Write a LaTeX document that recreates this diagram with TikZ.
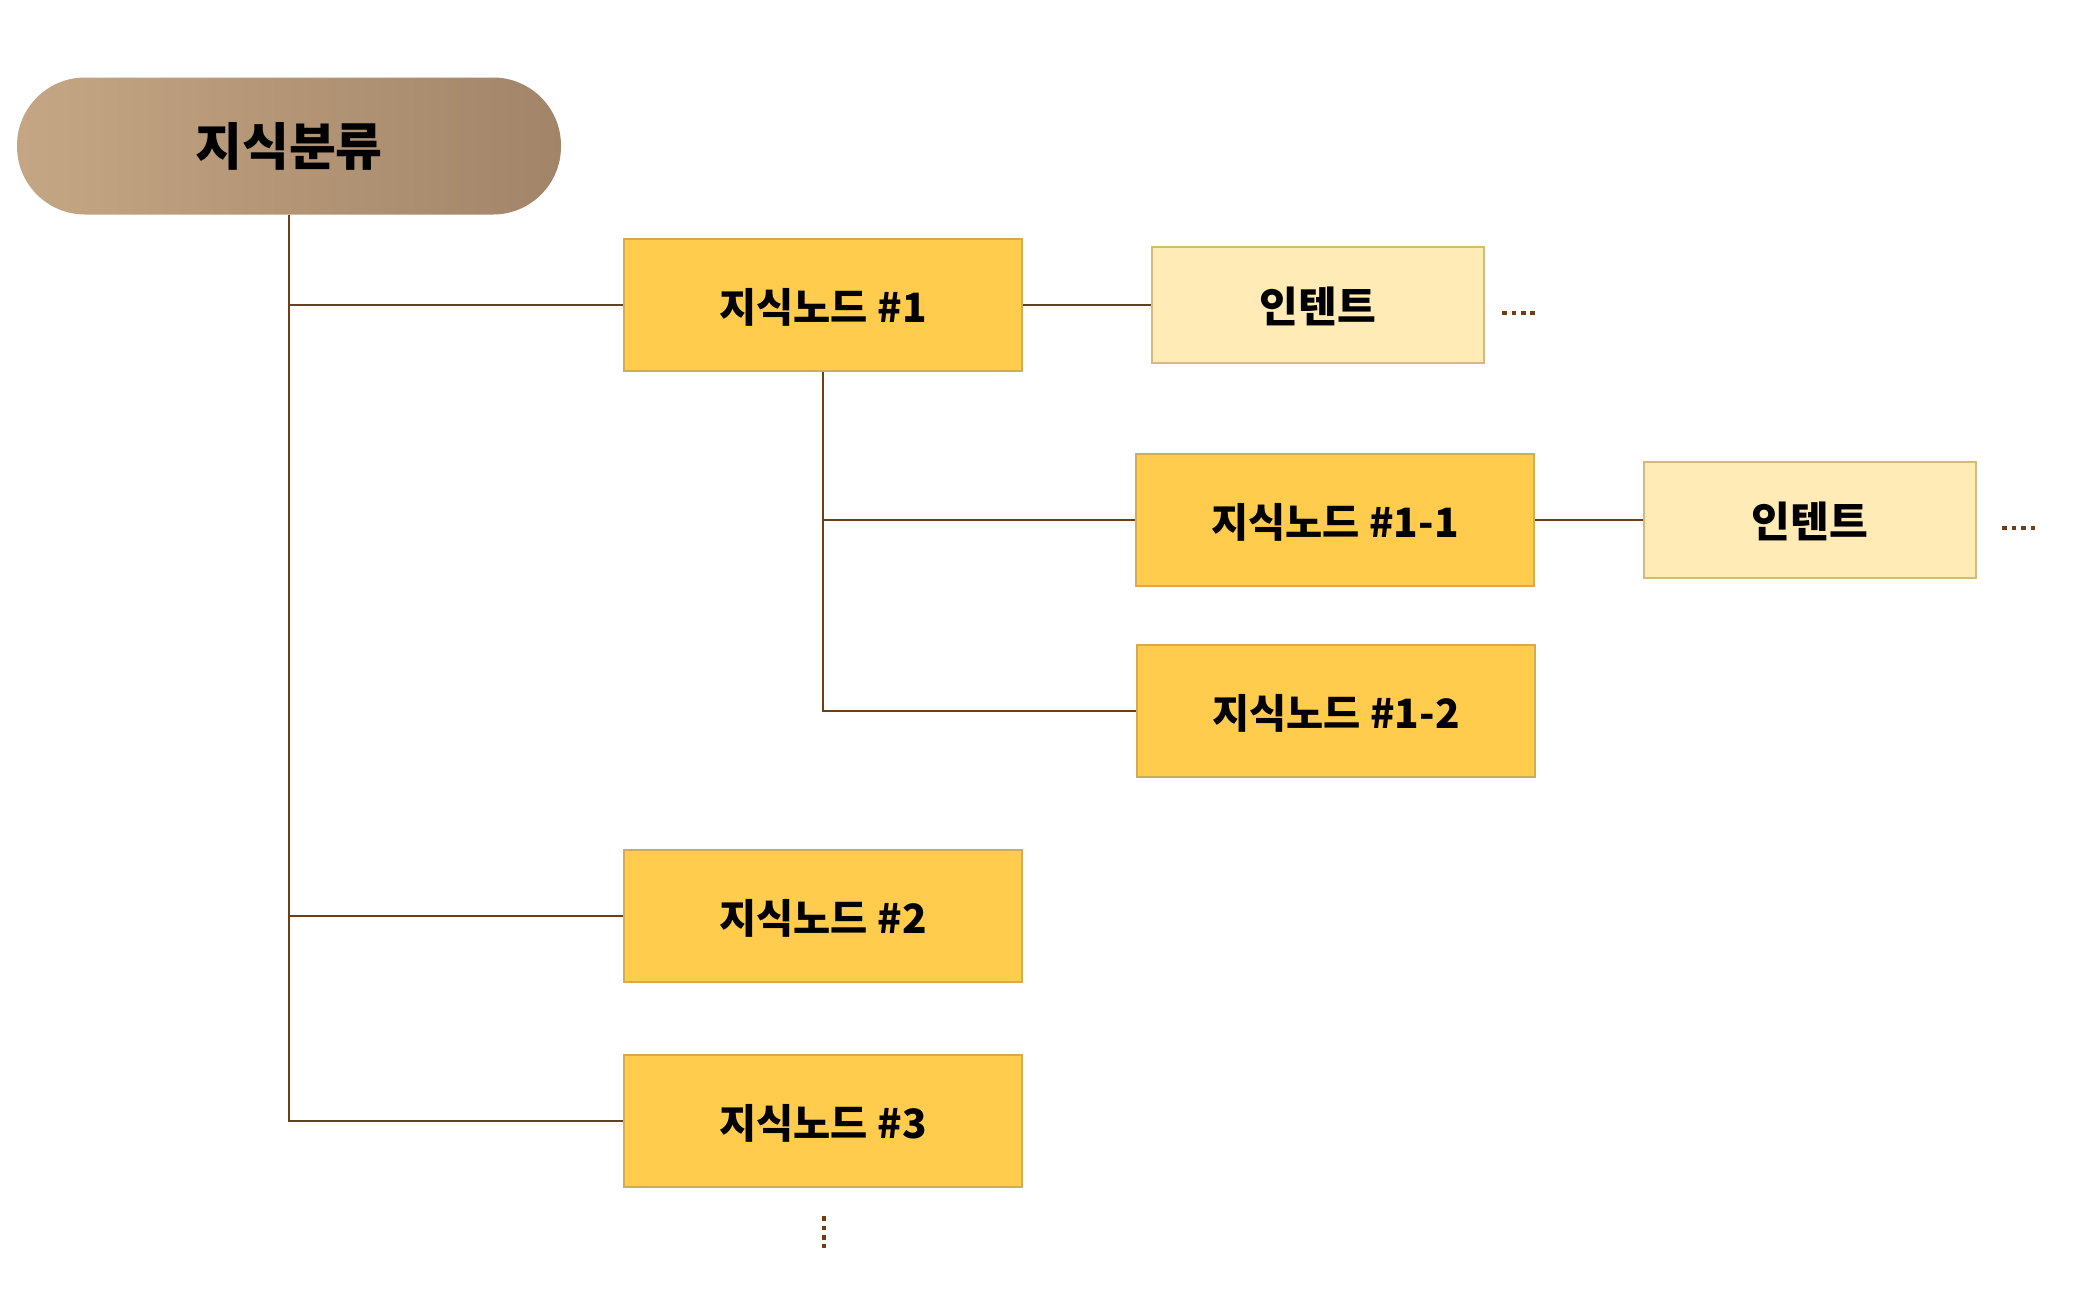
\documentclass[tikz,border=0pt]{standalone}
\usepackage{fontspec}
\newfontfamily\krfont{Noto Sans CJK KR}
\definecolor{kbrown}{RGB}{112,62,20}
\definecolor{kgold}{RGB}{255,204,77}
\definecolor{kgoldline}{RGB}{212,170,84}
\definecolor{kcream}{RGB}{255,235,181}
\definecolor{kcreamline}{RGB}{214,186,122}
\definecolor{kleft}{RGB}{197,166,132}
\definecolor{kright}{RGB}{162,133,105}

\begin{document}
\begin{tikzpicture}[
  rootbox/.style={rounded corners=0.68cm, left color=kleft, right color=kright, minimum width=5.44cm, minimum height=1.37cm, inner sep=0pt, font=\krfont\bfseries\fontsize{14.5}{17}\selectfont},
  knode/.style={draw=kgoldline, fill=kgold, line width=0.6pt, minimum width=3.98cm, minimum height=1.32cm, inner sep=0pt, text depth=0pt, font=\krfont\bfseries\fontsize{11.5}{14}\selectfont},
  intent/.style={knode, draw=kcreamline, fill=kcream, minimum width=3.32cm, minimum height=1.16cm, font=\krfont\bfseries\fontsize{12}{14}\selectfont},
  link/.style={draw=kbrown, line width=0.75pt},
  more/.style={draw=kbrown, line width=1.4pt, dash pattern=on 1.4pt off 1.3pt}
]
\useasboundingbox (0,0) rectangle (20.79,-12.93);

% Root
\node[rootbox] (root) at (2.89,-1.46) {지식분류};

% Knowledge nodes
\node[knode] (n1) at (8.23,-3.05) {지식노드 \#1};
\node[knode] (n11) at (13.35,-5.20) {지식노드 \#1-1};
\node[knode] (n12) at (13.36,-7.11) {지식노드 \#1-2};
\node[knode] (n2) at (8.23,-9.16) {지식노드 \#2};
\node[knode] (n3) at (8.23,-11.21) {지식노드 \#3};

% Intents
\node[intent] (i1) at (13.18,-3.05) {인텐트};
\node[intent] (i11) at (18.10,-5.20) {인텐트};

% Tree lines
\draw[link] (root.south) |- (n1.west);
\draw[link] (root.south) |- (n2.west);
\draw[link] (root.south) |- (n3.west);
\draw[link] (n1.south) |- (n11.west);
\draw[link] (n1.south) |- (n12.west);
\draw[link] (n1.east) -- (i1.west);
\draw[link] (n11.east) -- (i11.west);

% More
\coordinate (m1) at (15.02,-3.13);
\coordinate (m2) at (20.02,-5.28);
\coordinate (m3) at (8.24,-12.16);
\draw[more] (m1) -- ++(0.33,0);
\draw[more] (m2) -- ++(0.33,0);
\draw[more] (m3) -- ++(0,-0.32);
\end{tikzpicture}
\end{document}
